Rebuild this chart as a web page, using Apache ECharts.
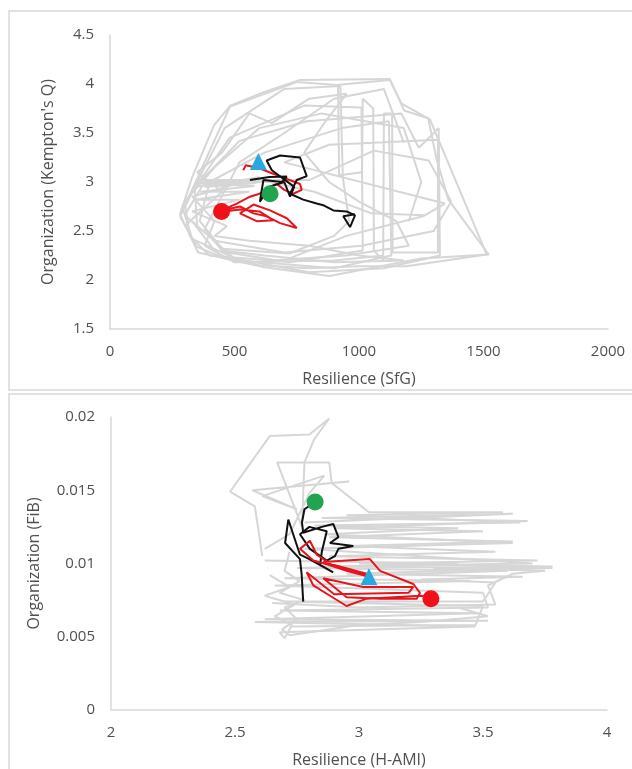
<!DOCTYPE html>
<html>
<head>
<meta charset="utf-8">
<script src="https://cdn.jsdelivr.net/npm/echarts@6/dist/echarts.min.js"></script>
<style>
  html, body { margin: 0; padding: 0; background: #fff; }
  #chart { width: 632px; height: 769px; }
</style>
</head>
<body>
<div id="chart"></div>
<script>
// top panel: SfG vs Kempton's Q
var topXTicks = [0, 500, 1000, 1500, 2000];
var topYTicks = [1.5, 2, 2.5, 3, 3.5, 4, 4.5];

var topGrayA = [[281,2.67],[330,3.05],[418,3.58],[483,3.78],[620,3.92],[760,4.04],[1124,4.05],[1181,3.73],[1278,3.65],[1310,3.25],[1359,2.82],[1521,2.26],[1250,2.22],[881,2.04],[620,2.13],[354,2.28],[281,2.67]];
var topGrayB = [[300,2.75],[460,3.55],[700,3.95],[925,3.98],[935,3.05],[960,2.6],[900,2.45],[720,2.27],[450,2.32],[360,2.6],[400,3.0],[620,3.3],[930,3.55],[1120,3.62],[1130,2.25],[900,2.12],[520,2.2],[330,2.42],[290,2.75],[480,3.45],[780,3.78],[1010,3.76],[1015,2.3],[720,2.18],[420,2.3],[330,2.6]];
var topGrayC = [[360,3.0],[520,3.42],[790,3.62],[1170,3.7],[1240,3.35],[1320,3.55],[1325,2.25],[1100,2.12],[800,2.08],[500,2.22],[350,2.55],[340,2.95],[520,3.02],[800,3.02],[1060,3.32],[1280,3.22],[1370,2.8],[1300,2.5],[1010,2.35],[700,2.28],[420,2.4],[300,2.66],[380,3.0],[640,3.0],[820,2.9],[1050,2.68],[1262,2.66]];
var topGrayD = [[350,3.02],[600,3.02],[380,2.98],[580,2.96],[360,2.9],[560,2.9],[340,2.82],[520,2.82],[330,2.7],[470,2.55],[420,2.45],[560,2.4],[800,2.35],[1000,2.25],[1180,2.2],[900,2.18],[620,2.25],[450,2.3],[380,2.52],[520,3.2],[700,3.5],[900,3.85],[1100,3.95],[1180,3.4]];
var topGrayE = [[916,3.99],[920,3.07],[1012,3.1],[1015,3.85],[1057,3.75],[1060,2.3],[1097,2.2],[1100,3.7],[1133,3.7],[1135,2.28],[1317,2.28],[1317,3.43],[880,3.38],[700,3.2],[1345,2.78],[1257,2.65],[950,2.45],[700,2.2]];
var topGrayF = [[281,2.65],[348,2.34],[442,2.24],[600,2.15],[800,2.12],[1000,2.14],[1190,2.14],[1513,2.26],[1285,3.64],[1171,3.8],[1124,4.04],[910,3.99],[750,4.02],[482,3.77],[415,3.4],[281,2.65],[348,2.99],[589,2.99],[380,2.95],[600,3.05],[330,2.85],[420,2.6],[380,2.35],[500,2.18],[900,2.2],[1100,2.25]];
var topGrayG = [[300,2.55],[450,2.9],[350,3.1],[450,3.3],[560,3.7],[650,3.6],[800,3.85],[950,3.9],[860,3.6],[780,3.3],[880,3.0],[1000,2.8],[1150,2.6],[1200,2.35],[950,2.25],[650,2.2],[400,2.25],[320,2.45],[300,2.8],[420,3.15],[600,3.55],[850,3.7],[1180,3.55],[1250,3.0],[1200,2.6]];
var topRed = [[535,3.12],[545,3.17],[600,3.14],[640,3.1],[710,3.03],[763,2.98],[770,2.92],[736,2.88],[700,2.92],[670,2.98],[640,2.95],[600,2.88],[562,2.85],[509,2.78],[448,2.71],[522,2.75],[576,2.68],[629,2.65],[683,2.58],[750,2.53],[710,2.63],[643,2.71],[576,2.77],[522,2.68],[589,2.6],[656,2.61],[600,2.7],[520,2.72],[460,2.7]];
var topBlack = [[562,3.02],[640,3.05],[710,3.055],[690,3.0],[616,3.02],[602,2.8],[640,2.95],[700,3.0],[723,2.85],[740,2.95],[650,3.12],[629,3.22],[683,3.27],[763,3.25],[790,3.06],[750,3.02],[723,2.88],[776,2.82],[830,2.78],[860,2.76],[897,2.71],[950,2.7],[984,2.66],[964,2.54],[937,2.65],[984,2.67]];
var topStart = [[596,3.21]];
var topGreen = [[643,2.88]];
var topEnd = [[448,2.7]];

// bottom panel: H-AMI vs FiB
var botXTicks = [2, 2.5, 3, 3.5, 4];
var botYTicks = [0, 0.005, 0.01, 0.015, 0.02];

var botGrayA = [[2.61,0.0105],[2.58,0.0139],[2.48,0.0149],[2.64,0.0187],[2.8,0.0188],[2.88,0.0199],[2.82,0.0185],[2.78,0.0169],[2.77,0.0125],[2.67,0.0169],[2.88,0.0169],[2.89,0.0155],[2.96,0.0156],[2.57,0.015],[2.75,0.0137],[2.61,0.0146],[2.86,0.016],[2.8,0.0148],[2.72,0.012],[2.62,0.011]];
var botGrayB = [[2.78,0.0128],[3.62,0.0134],[2.85,0.0131],[3.68,0.0129],[2.9,0.0124],[3.5,0.0122],[2.88,0.0118],[3.62,0.0115],[2.95,0.0112],[3.55,0.0108],[2.88,0.0105],[3.72,0.0102],[3.0,0.01],[3.78,0.0098],[3.3,0.0097],[3.75,0.0095],[3.62,0.0093],[3.52,0.0085],[3.55,0.0072],[3.0,0.007],[2.65,0.0073]];
var botGrayC = [[2.62,0.0102],[3.4,0.01],[2.75,0.0097],[3.6,0.0095],[2.7,0.009],[3.45,0.0088],[2.66,0.0085],[3.5,0.008],[3.52,0.007],[2.68,0.0068],[3.48,0.0066],[2.62,0.0062],[3.52,0.0061],[2.58,0.006],[3.47,0.0057],[2.68,0.0053],[2.7,0.0049],[2.73,0.0058],[2.66,0.0064],[2.74,0.0072],[2.62,0.0078],[2.72,0.0084],[2.64,0.0092]];
var botGrayD = [[2.72,0.0108],[2.7,0.0095],[2.76,0.0088],[2.68,0.008],[2.78,0.0075],[2.7,0.007],[2.75,0.0062],[2.69,0.0055],[2.72,0.0051],[3.0,0.0058],[3.25,0.006],[3.52,0.0064],[3.4,0.007]];
var botGrayE = [[2.89,0.0155],[3.04,0.0135],[3.58,0.0135],[2.95,0.0133],[3.65,0.0128],[2.82,0.0126],[3.4,0.0124],[2.86,0.012],[3.62,0.0114],[2.78,0.011],[3.7,0.01],[2.85,0.0098],[3.78,0.0097],[2.95,0.0093],[3.66,0.0091],[3.25,0.0089],[3.55,0.0087],[3.5,0.0074],[2.7,0.0074],[3.5,0.0071],[3.47,0.0058],[2.72,0.0057]];
var botBlack = [[2.823,0.0142],[2.78,0.0137],[2.77,0.0128],[2.775,0.0121],[2.85,0.0125],[2.896,0.0127],[2.917,0.0118],[2.883,0.0114],[2.977,0.0112],[2.917,0.011],[2.903,0.0105],[2.87,0.0102],[2.802,0.011],[2.762,0.012],[2.8,0.0125],[2.87,0.0122],[2.85,0.0108],[2.843,0.0099],[2.896,0.0094],[2.8,0.0103],[2.762,0.0106],[2.715,0.013],[2.702,0.0114],[2.762,0.0103],[2.769,0.0092],[2.775,0.0074]];
var botRed = [[3.04,0.0091],[2.95,0.0095],[2.88,0.0099],[2.816,0.0102],[2.762,0.011],[2.802,0.01155],[2.83,0.0106],[2.9,0.0098],[2.98,0.0094],[3.03,0.0093],[2.856,0.0101],[3.044,0.0103],[3.085,0.0095],[3.219,0.0086],[3.246,0.008],[3.233,0.0076],[3.085,0.0076],[2.95,0.0077],[2.856,0.009],[3.017,0.0084],[3.219,0.0084],[3.2,0.008],[2.9,0.0079],[2.789,0.0094],[2.816,0.0085],[2.883,0.0078],[2.95,0.0071],[3.031,0.0076],[3.246,0.0078],[3.293,0.0077]];
var botStart = [[3.04,0.0091]];
var botGreen = [[2.823,0.0142]];
var botEnd = [[3.29,0.0076]];

var chart = echarts.init(document.getElementById('chart'));

var txt = '#505050';
var axisGray = '#d9d9d9';
var gray = '#d6d6d6';
var font = 'Open Sans';

function xAx(idx, min, max, step, name) {
  return {
    type: 'value', gridIndex: idx, min: min, max: max, interval: step,
    name: name, nameLocation: 'middle', nameGap: 42,
    nameTextStyle: { color: txt, fontSize: 16, fontFamily: font },
    axisLine: { lineStyle: { color: axisGray, width: 1.5 } },
    axisTick: { show: false }, splitLine: { show: false },
    axisLabel: { color: txt, fontSize: 15, fontFamily: font, margin: 15,
      formatter: function (v) { return String(v); } }
  };
}
function yAx(idx, min, max, step, name, gap) {
  return {
    type: 'value', gridIndex: idx, min: min, max: max, interval: step,
    name: name, nameLocation: 'middle', nameGap: gap,
    nameTextStyle: { color: txt, fontSize: 16, fontFamily: font },
    axisLine: { show: true, lineStyle: { color: axisGray, width: 1.5 } },
    axisTick: { show: false }, splitLine: { show: false },
    axisLabel: { color: txt, fontSize: 15, fontFamily: font, margin: 16,
      formatter: function (v) { return String(+v.toFixed(4)); } }
  };
}
function path(data, idx, color, z) {
  return {
    type: 'line', xAxisIndex: idx, yAxisIndex: idx, data: data,
    symbol: 'none', smooth: false, silent: true, z: z,
    lineStyle: { color: color, width: 2 }
  };
}
function mark(data, idx, color, shape, size) {
  return {
    type: 'scatter', xAxisIndex: idx, yAxisIndex: idx, data: data,
    symbol: shape, symbolSize: size, z: 10,
    itemStyle: { color: color, opacity: 1 }
  };
}

chart.setOption({
  backgroundColor: '#fff',
  animation: false,
  graphic: [
    { type: 'rect', shape: { x: 9, y: 11, width: 640, height: 379 }, style: { fill: 'none', stroke: '#d9d9d9', lineWidth: 1.5 } },
    { type: 'rect', shape: { x: 9, y: 394, width: 640, height: 420 }, style: { fill: 'none', stroke: '#d9d9d9', lineWidth: 1.5 } }
  ],
  grid: [
    { left: 110, top: 35, width: 498, height: 294 },
    { left: 111, top: 417, width: 496, height: 295 }
  ],
  xAxis: [
    xAx(0, topXTicks[0], topXTicks[topXTicks.length - 1], 500, 'Resilience (SfG)'),
    xAx(1, botXTicks[0], botXTicks[botXTicks.length - 1], 0.5, 'Resilience (H-AMI)')
  ],
  yAxis: [
    yAx(0, topYTicks[0], topYTicks[topYTicks.length - 1], 0.5, "Organization (Kempton's Q)", 54),
    yAx(1, botYTicks[0], botYTicks[botYTicks.length - 1], 0.005, 'Organization (FiB)', 69)
  ],
  series: [
    path(topGrayA, 0, gray, 2),
    path(topGrayB, 0, gray, 2),
    path(topGrayC, 0, gray, 2),
    path(topGrayD, 0, gray, 2),
    path(topGrayE, 0, gray, 2),
    path(topGrayF, 0, gray, 2),
    path(topGrayG, 0, gray, 2),
    path(topRed, 0, '#e8141b', 3),
    path(topBlack, 0, '#111111', 4),
    mark(topStart, 0, '#2aa9e0', 'triangle', 17),
    mark(topGreen, 0, '#21a34f', 'circle', 17),
    mark(topEnd, 0, '#f20f17', 'circle', 17),

    path(botGrayA, 1, gray, 2),
    path(botGrayB, 1, gray, 2),
    path(botGrayC, 1, gray, 2),
    path(botGrayD, 1, gray, 2),
    path(botGrayE, 1, gray, 2),
    path(botBlack, 1, '#111111', 3),
    path(botRed, 1, '#e8141b', 4),
    mark(botStart, 1, '#2aa9e0', 'triangle', 17),
    mark(botGreen, 1, '#21a34f', 'circle', 17),
    mark(botEnd, 1, '#f20f17', 'circle', 17)
  ]
});
</script>
</body>
</html>
